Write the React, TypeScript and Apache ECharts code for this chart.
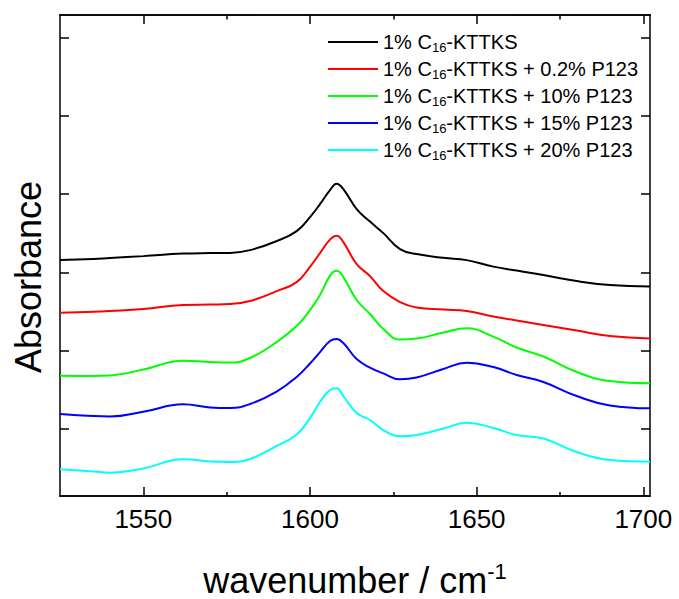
import React, { useEffect, useRef } from 'react';
import * as echarts from 'echarts';

const wavenumbers = [1525, 1535, 1540, 1550, 1562, 1570, 1576, 1582, 1590, 1596, 1600, 1603, 1606, 1608, 1610, 1614, 1618, 1622, 1627, 1632, 1640, 1647, 1655, 1662, 1670, 1680, 1690, 1702];

const seriesNames = [
  '1% C16-KTTKS',
  '1% C16-KTTKS + 0.2% P123',
  '1% C16-KTTKS + 10% P123',
  '1% C16-KTTKS + 15% P123',
  '1% C16-KTTKS + 20% P123',
];
const seriesColors = ['#000000', '#ff0000', '#00ff00', '#0000ff', '#00ffff'];

const blackValues = [3.158, 3.171, 3.184, 3.209, 3.241, 3.248, 3.250, 3.286, 3.401, 3.529, 3.707, 3.874, 4.053, 4.135, 4.065, 3.810, 3.650, 3.503, 3.299, 3.235, 3.187, 3.158, 3.075, 3.024, 2.967, 2.890, 2.839, 2.820];
const redValues = [2.485, 2.497, 2.507, 2.533, 2.584, 2.590, 2.596, 2.635, 2.762, 2.877, 3.073, 3.248, 3.420, 3.469, 3.388, 3.107, 2.954, 2.762, 2.622, 2.552, 2.526, 2.507, 2.437, 2.386, 2.328, 2.258, 2.188, 2.158];
const greenValues = [1.681, 1.677, 1.683, 1.760, 1.872, 1.856, 1.849, 1.907, 2.111, 2.315, 2.520, 2.711, 2.960, 3.022, 2.941, 2.648, 2.469, 2.277, 2.143, 2.156, 2.232, 2.286, 2.181, 2.041, 1.926, 1.728, 1.613, 1.584];
const blueValues = [1.192, 1.166, 1.160, 1.221, 1.315, 1.275, 1.268, 1.319, 1.479, 1.664, 1.837, 1.983, 2.124, 2.149, 2.098, 1.894, 1.785, 1.711, 1.635, 1.658, 1.766, 1.847, 1.792, 1.690, 1.600, 1.421, 1.300, 1.264];
const cyanValues = [0.485, 0.457, 0.442, 0.496, 0.613, 0.585, 0.579, 0.617, 0.783, 0.930, 1.140, 1.345, 1.498, 1.520, 1.421, 1.204, 1.115, 0.987, 0.907, 0.923, 1.006, 1.080, 1.013, 0.923, 0.879, 0.706, 0.604, 0.582];

const allValues = [blackValues, redValues, greenValues, blueValues, cyanValues];

const xMajorTicks = [1550, 1600, 1650, 1700];
const xMinorTicks = [1575, 1625, 1675];
const yTicks = [1, 2, 3, 4, 5, 6];

const X_MIN = 1525;
const X_MAX = 1702;
const Y_MIN = 0.144;
const Y_MAX = 6.29;

const FONT = '"Liberation Sans", Arial, Helvetica, sans-serif';

export default function App() {
  const ref = useRef<HTMLDivElement>(null);

  useEffect(() => {
    if (!ref.current) return;
    const chart = echarts.init(ref.current, undefined, { renderer: 'svg' });
    const axisLineStyle = { color: '#000', width: 1.5 };
    const tickLine = { color: '#000', width: 1.5 };

    const xAxisBase = (position: 'bottom' | 'top') => ({
      type: 'value' as const,
      min: X_MIN,
      max: X_MAX,
      position,
      splitLine: { show: false },
      axisLine: { show: true, onZero: false, lineStyle: axisLineStyle },
    });
    const yAxisBase = (position: 'left' | 'right') => ({
      type: 'value' as const,
      min: Y_MIN,
      max: Y_MAX,
      position,
      splitLine: { show: false },
      axisLine: { show: true, onZero: false, lineStyle: axisLineStyle },
      axisLabel: { show: false },
      axisTick: { show: true, inside: true, length: 9, customValues: yTicks, lineStyle: tickLine },
    });

    const option: any = {
      animation: false,
      backgroundColor: '#fff',
      grid: { left: 60, right: 29, top: 15, bottom: 103, containLabel: false, outerBoundsMode: 'none' },
      legend: {
        orient: 'vertical',
        left: 328,
        top: 30,
        padding: 0,
        icon: 'rect',
        itemWidth: 50,
        itemHeight: 2,
        itemGap: 3,
        data: seriesNames,
        formatter: (name: string) => name.replace('C16', 'C{sub|16}'),
        textStyle: {
          fontSize: 20,
          fontFamily: FONT,
          color: '#000',
          lineHeight: 24,
          rich: {
            sub: { fontSize: 13, fontFamily: FONT, color: '#000', lineHeight: 7, verticalAlign: 'bottom' },
          },
        },
      },
      xAxis: [
        {
          ...xAxisBase('bottom'),
          axisTick: { show: true, inside: true, length: 9, customValues: xMajorTicks, lineStyle: tickLine },
          axisLabel: {
            show: true,
            customValues: xMajorTicks,
            formatter: (v: number) => String(v),
            fontSize: 26,
            fontFamily: FONT,
            color: '#000',
            margin: 10,
          },
          name: 'wavenumber / cm{sup|-1}',
          nameLocation: 'middle',
          nameGap: 64,
          nameTextStyle: {
            fontSize: 36,
            fontFamily: FONT,
            color: '#000',
            lineHeight: 40,
            rich: {
              sup: { fontSize: 22, fontFamily: FONT, color: '#000', lineHeight: 22, verticalAlign: 'top' },
            },
          },
        },
        {
          ...xAxisBase('bottom'),
          axisTick: { show: true, inside: true, length: 4, customValues: xMinorTicks, lineStyle: tickLine },
          axisLabel: { show: false },
        },
        {
          ...xAxisBase('top'),
          axisTick: { show: true, inside: true, length: 9, customValues: xMajorTicks, lineStyle: tickLine },
          axisLabel: { show: false },
        },
        {
          ...xAxisBase('top'),
          axisTick: { show: true, inside: true, length: 4.5, customValues: xMinorTicks, lineStyle: tickLine },
          axisLabel: { show: false },
        },
      ],
      yAxis: [yAxisBase('left'), yAxisBase('right')],
      graphic: [
        {
          type: 'text',
          x: 28,
          y: 277,
          rotation: Math.PI / 2,
          style: {
            text: 'Absorbance',
            fontSize: 36,
            fontFamily: FONT,
            fill: '#000',
            align: 'center',
            verticalAlign: 'middle',
          },
        },
      ],
      series: seriesNames.map((name, i) => ({
        name,
        type: 'line',
        xAxisIndex: 0,
        yAxisIndex: 0,
        data: wavenumbers.map((w, j) => [w, allValues[i][j]]),
        showSymbol: false,
        symbol: 'none',
        smooth: 0.45,
        lineStyle: { color: seriesColors[i], width: 2 },
        itemStyle: { color: seriesColors[i] },
        clip: true,
      })),
    };
    chart.setOption(option);
    return () => chart.dispose();
  }, []);

  return <div ref={ref} style={{ position: 'fixed', left: 0, top: 0, width: 679, height: 599, background: '#fff' }} />;
}
